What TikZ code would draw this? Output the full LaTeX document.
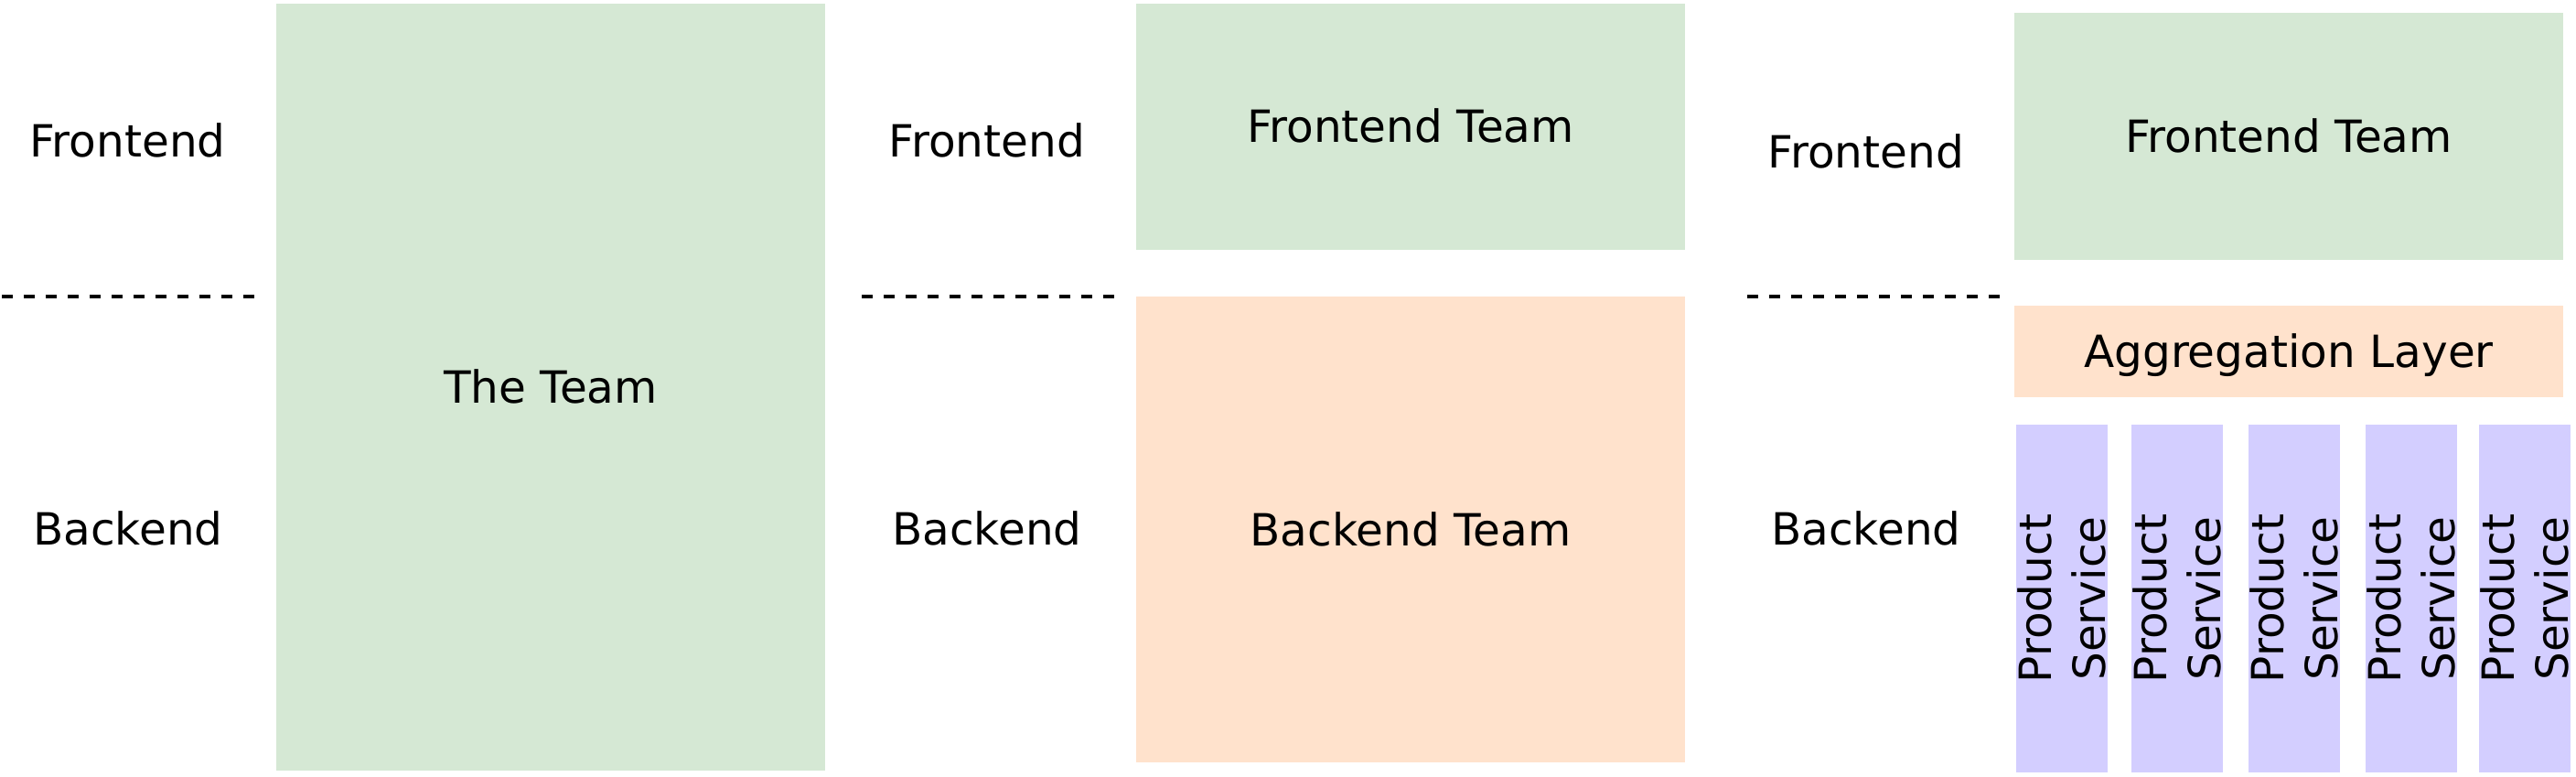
\documentclass[tikz,border=0pt]{standalone}
\usepackage{fontspec}
\setmainfont{DejaVu Sans}
\usepackage{tikz}
\definecolor{teamgreen}{HTML}{D5E8D4}
\definecolor{teamorange}{HTML}{FFE2CC}
\definecolor{svcpurple}{HTML}{D3CEFF}
\tikzstyle{teambox} = [rectangle, draw=none, inner sep=0pt, text height=0.35cm, text depth=0pt, minimum width=6cm]
\tikzstyle{servicebox} = [rectangle, draw=none, fill=svcpurple, inner sep=0pt, minimum width=3.8cm, minimum height=1cm]
\tikzstyle{layerlabel} = [anchor=base]
\tikzstyle{divider} = [line width=0.04cm, dash pattern=on 0.12cm off 0.12cm]

\begin{document}
\begin{tikzpicture}[every node/.style={font=\fontsize{13.8}{16.6}\selectfont}]
            \useasboundingbox (0,0) rectangle (28.16,8.48);
            \node[teambox, fill=teamgreen, minimum height=8.38cm] (team) at (6.02,4.25) {The Team};
            \node[layerlabel] (frontA) at (1.395,6.76) {Frontend};
            \node[layerlabel] (backA) at (1.40,2.53) {Backend};
            \coordinate (divAl) at (0.02,5.24);
            \coordinate (divAr) at (2.78,5.24);
            \draw[divider] (divAl) -- (divAr);

            \node[teambox, fill=teamgreen, minimum height=2.69cm] (fteamB) at (15.42,7.095) {Frontend Team};
            \node[teambox, fill=teamorange, minimum height=5.09cm] (bteamB) at (15.42,2.695) {Backend Team};
            \node[layerlabel] (frontB) at (10.79,6.76) {Frontend};
            \node[layerlabel] (backB) at (10.79,2.53) {Backend};
            \coordinate (divBl) at (9.42,5.24);
            \coordinate (divBr) at (12.18,5.24);
            \draw[divider] (divBl) -- (divBr);

            \node[teambox, fill=teamgreen, minimum height=2.70cm] (fteamC) at (25.02,6.99) {Frontend Team};
            \node[teambox, fill=teamorange, minimum height=1.00cm] (agg) at (25.02,4.64) {Aggregation Layer};
            \foreach \x [count=\i] in {22.54,23.80,25.08,26.36,27.60}
                \node[servicebox, rotate=90, align=center] (svc\i) at (\x,1.94) {Product\\Service};
            \node[layerlabel] (frontC) at (20.40,6.64) {Frontend};
            \node[layerlabel] (backC) at (20.40,2.53) {Backend};
            \coordinate (divCl) at (19.10,5.24);
            \coordinate (divCr) at (21.86,5.24);
            \draw[divider] (divCl) -- (divCr);
        \end{tikzpicture}
\end{document}
